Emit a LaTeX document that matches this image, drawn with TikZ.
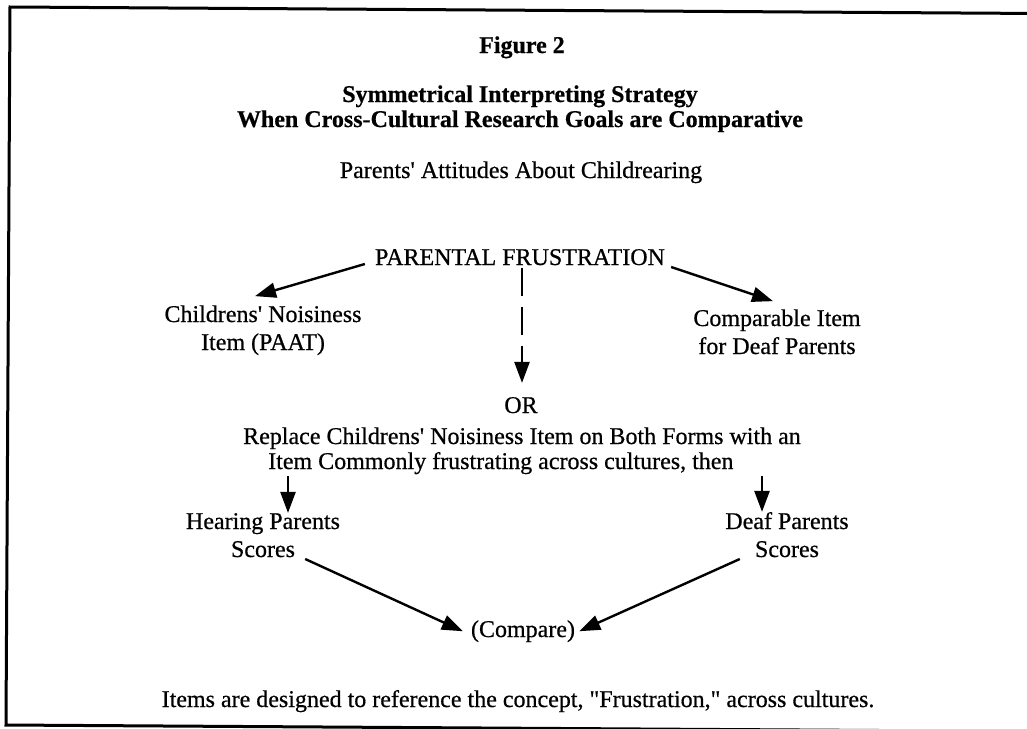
\documentclass[tikz,border=0pt]{standalone}
\usepackage{fontspec}
\setmainfont{Liberation Serif}[Ligatures=TeXOff, UprightFeatures={FakeBold=0.6}, BoldFeatures={FakeBold=0.6}]
\usetikzlibrary{arrows.meta,calc}
\begin{document}
\begin{tikzpicture}[x=1pt,y=-1pt,
  txt/.style={inner sep=0pt, font=\fontsize{24}{28.5}\selectfont},
  ttl/.style={inner sep=0pt, font=\fontsize{24}{28.5}\selectfont\bfseries},
  arr/.style={line width=2.4pt, -{Triangle[length=21pt,width=15pt]}},
  dasharr/.style={arr, dash pattern=on 28pt off 11pt},
  framestyle/.style={line width=3pt}]
\useasboundingbox (0,0) rectangle (1027,728);
\draw[framestyle] (1040,13.5) -- (10,7) -- (6,725) -- (1040,731.5);

\node[ttl, anchor=base] (fig) at (522,53) {Figure 2};
\node[ttl, anchor=base] (t1) at (520,102) {Symmetrical Interpreting Strategy};
\node[ttl, anchor=base] (t2) at (520,127) {When Cross-Cultural Research Goals are Comparative};
\node[txt, anchor=base] (paa) at (521,178) {Parents' Attitudes About Childrearing};

\node[txt, anchor=base] (pf) at (520,265) {PARENTAL FRUSTRATION};
\node[txt, anchor=base] (cn1) at (263,322) {Childrens' Noisiness};
\node[txt, anchor=base] (cn2) at (263,350) {Item (PAAT)};
\node[txt, anchor=base] (ci1) at (777,326) {Comparable Item};
\node[txt, anchor=base] (ci2) at (777,354) {for Deaf Parents};
\node[txt, anchor=base] (or) at (521,413) {OR};
\node[txt, anchor=base] (rep) at (522,444) {Replace Childrens' Noisiness Item on Both Forms with an};
\node[txt, anchor=base west] (itm) at (268,469) {Item Commonly frustrating across cultures, then};
\node[txt, anchor=base] (hp1) at (263,529) {Hearing Parents};
\node[txt, anchor=base] (hp2) at (263,557) {Scores};
\node[txt, anchor=base] (dp1) at (787,529) {Deaf Parents};
\node[txt, anchor=base] (dp2) at (787,557) {Scores};
\node[txt, anchor=base] (cmp) at (523,637) {(Compare)};
\node[txt, anchor=base] (items) at (518,707) {Items are designed to reference the concept, "Frustration," across cultures.};

\coordinate (pfL) at ($(pf.base west)+(-10,-1)$);
\coordinate (pfR) at ($(pf.base east)+(6,2)$);
\coordinate (cnT) at ($(cn1.north)+(-8,-9)$);
\coordinate (ciT) at ($(ci1.north)+(-4,-8)$);
\coordinate (pfB) at ($(pf.south)+(2,3)$);
\coordinate (orT) at ($(or.north)+(1,-14)$);
\coordinate (ha) at (288,476);
\coordinate (da) at (762,476);
\coordinate (hsR) at ($(hp2.base east)+(10,2)$);
\coordinate (dsL) at ($(dp2.base west)+(-15,2)$);
\coordinate (cmL) at ($(cmp.west)+(-8,0)$);
\coordinate (cmR) at ($(cmp.east)+(4,0)$);

\draw[arr] (pfL) -- (cnT);
\draw[arr] (pfR) -- (ciT);
\draw[dasharr] (pfB) -- (orT);
\draw[arr] (ha) -- (ha |- hp1.north);
\draw[arr] (da) -- (da |- dp1.north);
\draw[arr] (hsR) -- (cmL);
\draw[arr] (dsL) -- (cmR);
\end{tikzpicture}
\end{document}
